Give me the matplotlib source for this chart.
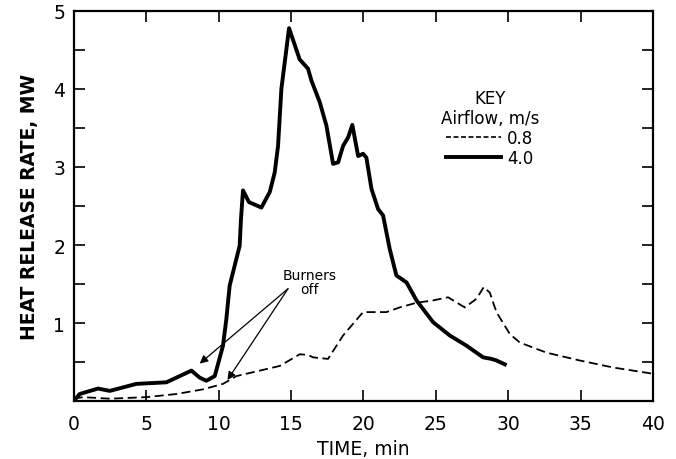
import matplotlib.pyplot as plt
from matplotlib.lines import Line2D

# 4.0 m/s airflow (solid)
t_fast = [0.0, 0.41, 1.68, 2.49, 4.33, 6.4, 8.13, 8.7, 9.16, 9.74, 10.31, 10.54, 10.77,
          11.46, 11.55, 11.69, 12.1, 12.96, 13.54, 13.88, 14.11, 14.34, 14.87,
          15.6, 16.18, 16.41, 16.99, 17.45, 17.91, 18.26, 18.6, 18.95, 19.24,
          19.64, 19.98, 20.21, 20.56, 21.02, 21.36, 21.82, 22.28, 22.98, 23.67,
          24.82, 25.97, 27.12, 28.27, 28.85, 29.19, 29.77]
q_fast = [0.0, 0.09, 0.16, 0.13, 0.22, 0.24, 0.39, 0.30, 0.26, 0.32, 0.71, 1.05, 1.48,
          1.99, 2.33, 2.70, 2.55, 2.48, 2.68, 2.93, 3.27, 4.0, 4.78,
          4.38, 4.26, 4.11, 3.83, 3.53, 3.04, 3.06, 3.27, 3.38, 3.54,
          3.14, 3.17, 3.12, 2.72, 2.46, 2.38, 1.95, 1.61, 1.52, 1.29,
          1.01, 0.84, 0.71, 0.56, 0.54, 0.52, 0.47]

# 0.8 m/s airflow (dashed)
t_slow = [0.0, 0.64, 2.49, 5.02, 7.09, 8.93, 10.31, 11.24, 12.85, 14.23, 15.61,
          16.18, 16.53, 17.56, 18.6, 19.98, 21.6, 22.51, 23.67, 24.82, 25.85,
          27.0, 27.81, 28.31, 28.73, 29.19, 30.11, 30.8, 32.65, 34.94, 37.24, 40.0]
q_slow = [0.03, 0.05, 0.03, 0.05, 0.09, 0.15, 0.22, 0.32, 0.39, 0.45, 0.60,
          0.59, 0.56, 0.54, 0.84, 1.14, 1.14, 1.20, 1.26, 1.29, 1.33,
          1.20, 1.31, 1.46, 1.39, 1.14, 0.86, 0.75, 0.62, 0.52, 0.43, 0.35]

x_ticks = [0, 5, 10, 15, 20, 25, 30, 35, 40]
y_ticks = [1, 2, 3, 4, 5]

# "Burners off" arrow targets
arrow_tips = [(8.7, 0.48), (10.62, 0.27)]
note_xy = (14.8, 1.44)

plt.rcParams['font.family'] = ['DejaVu Sans']

fig = plt.figure(figsize=(6.76, 4.6), dpi=100)
ax = fig.add_axes([0.109, 0.126, 0.857, 0.848])

ax.plot(t_slow, q_slow, color='black', linewidth=1.3, linestyle=(0, (5, 2.5)))
ax.plot(t_fast, q_fast, color='black', linewidth=2.8, solid_joinstyle='round')

ax.set_xlim(0, 40)
ax.set_ylim(0, 5)
ax.set_xticks(x_ticks)
ax.set_yticks(y_ticks)
ax.set_yticks([0.5 * i for i in range(1, 10, 2)], minor=True)
ax.tick_params(axis='both', which='both', direction='in', top=True, right=True,
               length=8, width=1.2, labelsize=13.5)
ax.tick_params(axis='x', pad=9)
ax.tick_params(axis='y', pad=6)
for sp in ax.spines.values():
    sp.set_linewidth(1.6)

ax.set_xlabel('TIME, min', fontsize=13.5, labelpad=5)
ax.set_ylabel('HEAT RELEASE RATE, MW', fontsize=13.5, fontweight='bold', labelpad=10)

for tip in arrow_tips:
    ax.annotate('', xy=tip, xytext=note_xy,
                arrowprops=dict(arrowstyle='-|>', color='black', lw=0.9,
                                mutation_scale=12, shrinkA=0, shrinkB=0))
ax.text(16.3, 1.53, 'Burners\noff', ha='center', va='center', fontsize=10,
        linespacing=1.0)

handles = [Line2D([], [], color='black', linewidth=1.2, linestyle=(0, (3, 1.5))),
           Line2D([], [], color='black', linewidth=2.8)]
leg = ax.legend(handles, ['0.8', '4.0'], title='KEY\nAirflow, m/s',
                loc='upper left', bbox_to_anchor=(0.622, 0.818), frameon=False,
                fontsize=12, title_fontsize=12, handlelength=3.3,
                handletextpad=0.35, labelspacing=0.1, borderaxespad=0)
leg.get_title().set_multialignment('center')

fig.savefig('out.png', dpi=100)
